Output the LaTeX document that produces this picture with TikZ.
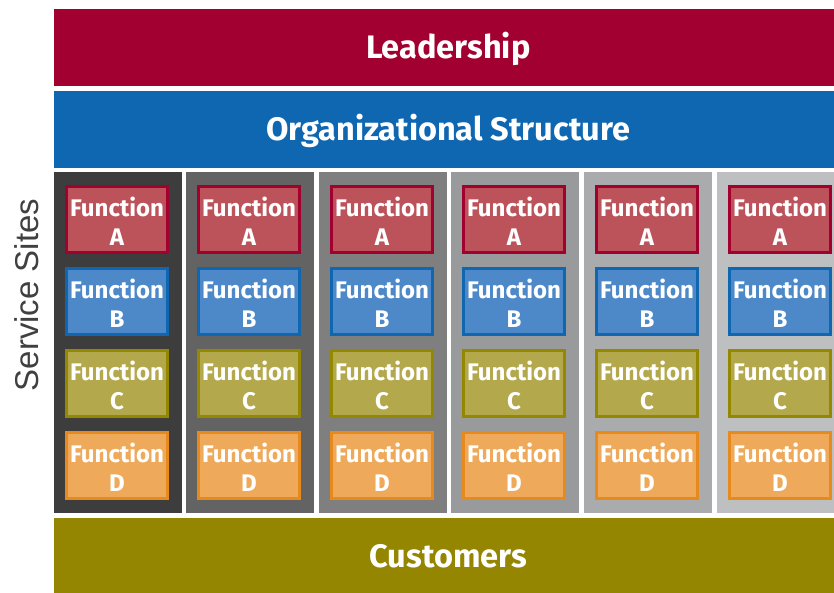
\documentclass[tikz,border=0pt]{standalone}
\usepackage{fontspec}
\setmainfont{Fira Sans}
\newfontfamily\labelfont{Liberation Sans}
\definecolor{leadc}{HTML}{A20030}
\definecolor{orgc}{HTML}{0E67B0}
\definecolor{custc}{HTML}{948600}
\definecolor{afill}{HTML}{BC535B}
\definecolor{aline}{HTML}{A2002F}
\definecolor{bfill}{HTML}{4D88C8}
\definecolor{bline}{HTML}{0E67B0}
\definecolor{cfill}{HTML}{B4A84C}
\definecolor{cline}{HTML}{948800}
\definecolor{dfill}{HTML}{EEAA5A}
\definecolor{dline}{HTML}{E68A1E}
\definecolor{g1}{HTML}{3D3D3D}
\definecolor{g2}{HTML}{636363}
\definecolor{g3}{HTML}{7F7F80}
\definecolor{g4}{HTML}{999A9C}
\definecolor{g5}{HTML}{AAABAD}
\definecolor{g6}{HTML}{BEBFC1}
\definecolor{labc}{HTML}{404040}
\tikzset{
  band/.style={draw=none, inner sep=0pt, anchor=north west},
  bandtext/.style={font=\fontsize{32.5}{34}\selectfont\bfseries, text=white},
  column/.style={draw=none, inner sep=0pt, anchor=north west},
  funcbox/.style={line width=3pt, inner sep=0pt, minimum width=101pt, minimum height=66pt, align=center, text=white,
    font=\fontsize{24}{29}\selectfont\bfseries},
}
\begin{document}
\begin{tikzpicture}[x=1pt,y=-1pt]
\useasboundingbox (0,0) rectangle (834,593);
\node[band, fill=leadc, minimum width=780pt, minimum height=77pt] (lead) at (54,9) {};
\node[bandtext] (leadt) at ([shift={(4pt,-1pt)}]lead.center) {Leadership};
\node[band, fill=orgc, minimum width=780pt, minimum height=77pt] (org) at (54,91) {};
\node[bandtext] (orgt) at ([shift={(4pt,-1pt)}]org.center) {Organizational Structure};
\node[band, fill=custc, minimum width=780pt, minimum height=75pt] (cust) at (54,518) {};
\node[bandtext] (custt) at ([shift={(4pt,-1pt)}]cust.center) {Customers};
\foreach \i/\x/\g/\w in {1/54/g1/128, 2/186/g2/128, 3/319/g3/128, 4/451/g4/128, 5/584/g5/128, 6/717/g6/117} {
  \node[column, fill=\g, minimum width=\w pt, minimum height=341pt] (col\i) at (\x,172) {};
  \node[funcbox, draw=aline, fill=afill] (fa\i) at (\x+63,219.5) {};
  \node[funcbox, draw=bline, fill=bfill] (fb\i) at (\x+63,301.5) {};
  \node[funcbox, draw=cline, fill=cfill] (fc\i) at (\x+63,383.5) {};
  \node[funcbox, draw=dline, fill=dfill] (fd\i) at (\x+63,465.5) {};
  \node[funcbox, draw=none] (ta\i) at ([yshift=-1.5pt]fa\i.center) {Function\\A};
  \node[funcbox, draw=none] (tb\i) at ([yshift=-1.5pt]fb\i.center) {Function\\B};
  \node[funcbox, draw=none] (tc\i) at ([yshift=-1.5pt]fc\i.center) {Function\\C};
  \node[funcbox, draw=none] (td\i) at ([yshift=-1.5pt]fd\i.center) {Function\\D};
}
\node[rotate=90, text=labc, font=\labelfont\fontsize{33}{36}\selectfont] (sites) at (27,295) {Service Sites};
\end{tikzpicture}
\end{document}
